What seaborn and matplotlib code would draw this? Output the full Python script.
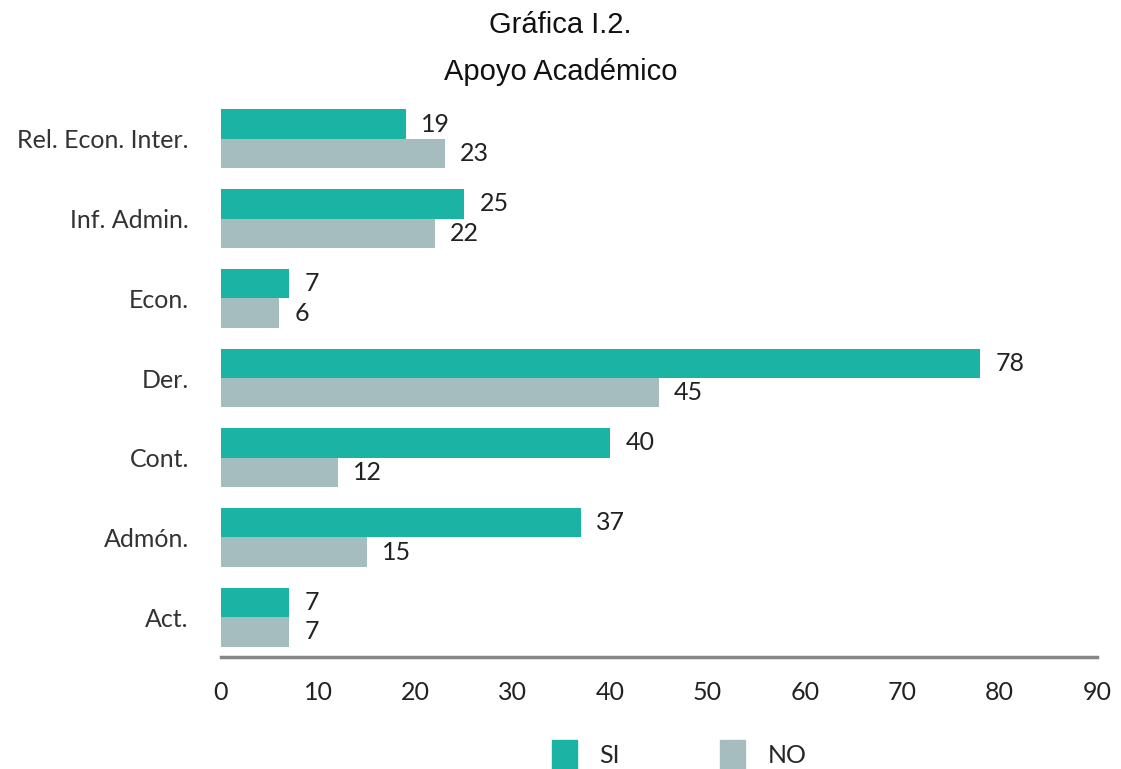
import matplotlib
matplotlib.use("Agg")
import matplotlib.pyplot as plt
import seaborn as sns
import pandas as pd

categories = ["Rel. Econ. Inter.", "Inf. Admin.", "Econ.", "Der.", "Cont.", "Admón.", "Act."]
si_values = [19, 25, 7, 78, 40, 37, 7]
no_values = [23, 22, 6, 45, 12, 15, 7]
series = ["SI", "NO"]
x_ticks = [0, 10, 20, 30, 40, 50, 60, 70, 80, 90]

colors = {"SI": "#1bb3a3", "NO": "#a6bdc0"}

df = pd.DataFrame({
    "categoria": categories * 2,
    "valor": si_values + no_values,
    "serie": [series[0]] * len(categories) + [series[1]] * len(categories),
})

sns.set_style("white")
plt.rcParams["font.family"] = ["Lato", "DejaVu Sans"]

fig = plt.figure(figsize=(11.21, 7.69), dpi=100)
ax = fig.add_axes([0.197, 0.1456, 0.7816, 0.7257])

sns.barplot(data=df, x="valor", y="categoria", hue="serie", order=categories,
            hue_order=series, palette=colors, orient="h", width=0.74,
            saturation=1, linewidth=0, ax=ax, legend=False)

for container in ax.containers:
    ax.bar_label(container, padding=11, fontsize=18, color="#222222")

ax.set_xlim(0, 90)
ax.set_ylim(6.5, -0.5)
ax.set_xticks(x_ticks)
ax.set_xticklabels([str(t) for t in x_ticks], fontsize=18, color="#222222")
ax.tick_params(axis="x", length=0, pad=17)
ax.tick_params(axis="y", length=0, pad=23, labelsize=18, labelcolor="#333333")
ax.set_xlabel("")
ax.set_ylabel("")
for side in ["top", "right", "left"]:
    ax.spines[side].set_visible(False)
ax.spines["bottom"].set_color("#868686")
ax.spines["bottom"].set_linewidth(2.5)

fig.text(0.5, 0.967, "Gráfica I.2.", ha="center", va="center", fontsize=21,
         family="Liberation Sans", color="#111111")
fig.text(0.5, 0.906, "Apoyo Académico", ha="center", va="center", fontsize=21,
         family="Liberation Sans", color="#111111")

handles = [plt.Rectangle((0, 0), 1, 1, color=colors[s]) for s in series]
fig.legend(handles, series, loc="center", bbox_to_anchor=(0.606, 0.018), ncol=2,
           frameon=False, fontsize=18, handlelength=1.0, handleheight=1.5,
           columnspacing=4.0, handletextpad=0.9)

fig.savefig("out.png", dpi=100)
